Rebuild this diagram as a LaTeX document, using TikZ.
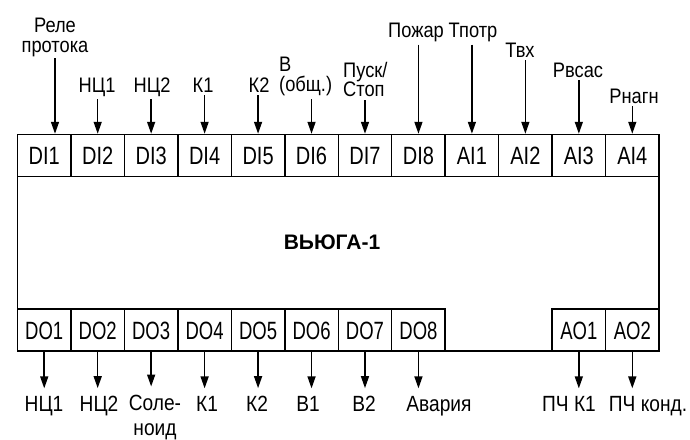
\documentclass[tikz,border=0pt]{standalone}
\usepackage{fontspec}
\setmainfont{Liberation Sans}
\newfontfamily\lblfont{Liberation Sans}[FakeStretch=0.87]
\newfontfamily\cellfont{Liberation Sans}[FakeStretch=0.8]
\newfontfamily\ocellfont{Liberation Sans}[FakeStretch=0.74]
\usetikzlibrary{arrows.meta}

\tikzset{
  cell/.style={draw, line width=1.5pt, minimum width=53.46pt, minimum height=42pt,
    inner sep=0pt, text height=18pt, text depth=0pt,
    font=\cellfont\fontsize{25}{27}\selectfont},
  ocell/.style={cell, font=\ocellfont\fontsize{25}{27}\selectfont},
  lbl/.style={inner sep=1pt, font=\lblfont\fontsize{21}{19.5}\selectfont},
  olbl/.style={inner sep=1pt, font=\lblfont\fontsize{22}{25}\selectfont},
  arr/.style={line width=1.5pt, -{Triangle[length=12pt,width=8pt]}},
}

\begin{document}
\begin{tikzpicture}[x=1pt,y=-1pt]
\useasboundingbox (0,0) rectangle (690,439);
% body
\draw[line width=1.8pt] (17.5,134.5) rectangle (659,350.7);
\node[font=\bfseries\fontsize{21}{24}\selectfont] (name) at (332,242.5) {ВЬЮГА-1};
% inputs
\foreach \i in {1,...,8}
  \node[cell] (di\i) at ({17.5+(\i-0.5)*53.46},155.5) {DI\i};
\foreach \i in {1,...,4}
  \node[cell] (ai\i) at ({17.5+(\i+7.5)*53.46},155.5) {AI\i};
% outputs
\foreach \i in {1,...,8}
  \node[ocell] (do\i) at ({17.5+(\i-0.5)*53.46},330) {DO\i};
\foreach \i in {1,2}
  \node[ocell] (ao\i) at ({17.5+(\i+9.5)*53.46},330) {AO\i};

% input labels
\node[lbl, anchor=south, align=center] (t1) at (55,58) {Реле\\протока};
\node[lbl, anchor=base] (t2) at (97,92) {НЦ1};
\node[lbl, anchor=base] (t3) at (152,92) {НЦ2};
\node[lbl, anchor=base] (t4) at (203,92) {К1};
\node[lbl, anchor=base] (t5) at (259,92) {К2};
\node[lbl, anchor=south west, align=left] (t6) at (278,97) {В\\(общ.)};
\node[lbl, anchor=south west, align=left] (t7) at (342,98) {Пуск/\\Стоп};
\node[lbl, anchor=base] (t8) at (416,37) {Пожар};
\node[lbl, anchor=base] (t9) at (473,37) {Тпотр};
\node[lbl, anchor=base] (t10) at (520,57) {Твх};
\node[lbl, anchor=base] (t11) at (578,77) {Рвсас};
\node[lbl, anchor=base] (t12) at (634,103) {Рнагн};

\draw[arr] (t1.south) -- (t1.south |- di1.north);
\foreach \n in {2,...,8}
  \draw[arr, shorten <=2pt] (di\n.north |- t\n.south) -- (di\n.north);
\foreach \n/\t in {1/9,2/10,3/11,4/12}
  \draw[arr, shorten <=2pt] (ai\n.north |- t\t.south) -- (ai\n.north);

% output labels
\node[olbl, anchor=base] (b1) at (44,411.7) {НЦ1};
\node[olbl, anchor=base] (b2) at (99,411.7) {НЦ2};
\node[olbl, anchor=north, align=center] (b3) at (155,393.5) {Соле-\\ноид};
\node[olbl, anchor=base] (b4) at (207,411.7) {К1};
\node[olbl, anchor=base] (b5) at (257,411.7) {К2};
\node[olbl, anchor=base] (b6) at (308,411.7) {В1};
\node[olbl, anchor=base] (b7) at (364,411.7) {В2};
\node[olbl, anchor=base] (b8) at (439,411.7) {Авария};
\node[olbl, anchor=base] (c1) at (569,411.7) {ПЧ К1};
\node[olbl, anchor=base] (c2) at (648,411.7) {ПЧ конд.};

\foreach \n in {1,...,8}
  \draw[arr, shorten >=7pt] (do\n.south) -- (do\n.south |- b\n.north);
\foreach \n in {1,2}
  \draw[arr, shorten >=7pt] (ao\n.south) -- (ao\n.south |- c\n.north);
\end{tikzpicture}
\end{document}
